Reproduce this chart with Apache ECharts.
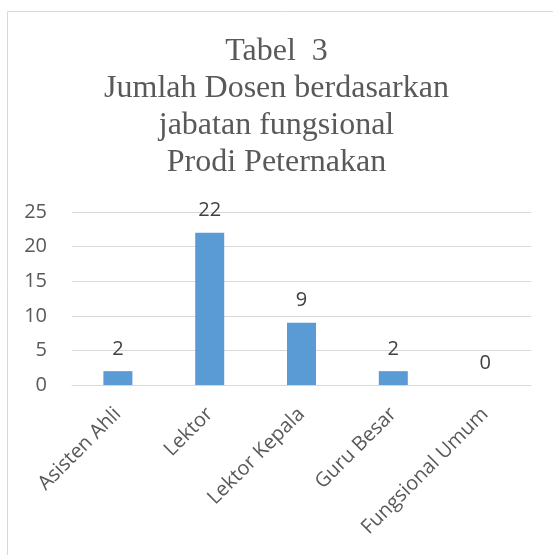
<!DOCTYPE html>
<html>
<head>
<meta charset="utf-8">
<script src="https://cdn.jsdelivr.net/npm/echarts@6/dist/echarts.min.js"></script>
<style>
  html, body { margin: 0; padding: 0; background: #fff; }
  #chart { width: 553px; height: 555px; }
</style>
</head>
<body>
<div id="chart"></div>
<script>
// data
const categories = ['Asisten Ahli', 'Lektor', 'Lektor Kepala', 'Guru Besar', 'Fungsional Umum'];
const jumlahDosen = [2, 22, 9, 2, 0];
const yTicks = [0, 5, 10, 15, 20, 25];

const chart = echarts.init(document.getElementById('chart'));

const option = {
  backgroundColor: '#fff',
  animation: false,
  // light frame around the chart area, like the Excel chart border
  graphic: [{
    type: 'rect',
    shape: { x: 7.5, y: 11.5, width: 600, height: 600 },
    style: { fill: 'none', stroke: '#d9d9d9', lineWidth: 1 },
    silent: true
  }],
  title: {
    text: 'Tabel  3\nJumlah Dosen berdasarkan\njabatan fungsional\nProdi Peternakan',
    left: 'center',
    top: 28,
    textStyle: {
      fontFamily: 'Liberation Serif',
      fontSize: 32,
      fontWeight: 'normal',
      lineHeight: 37,
      color: '#595959'
    }
  },
  grid: {
    left: 72,
    right: 22,
    top: 212,
    bottom: 170
  },
  xAxis: {
    type: 'category',
    data: categories,
    axisLine: { lineStyle: { color: '#d9d9d9', width: 1 } },
    axisTick: { show: false },
    axisLabel: {
      interval: 0,
      rotate: 45,
      margin: 26,
      fontFamily: 'Open Sans',
      fontSize: 20,
      color: '#595959'
    }
  },
  yAxis: {
    type: 'value',
    min: yTicks[0],
    max: yTicks[yTicks.length - 1],
    interval: 5,
    axisLine: { show: false },
    axisTick: { show: false },
    axisLabel: {
      margin: 25,
      fontFamily: 'Open Sans',
      fontSize: 20,
      color: '#595959'
    },
    splitLine: { lineStyle: { color: '#d9d9d9', width: 1 } }
  },
  series: [{
    type: 'bar',
    data: jumlahDosen,
    barWidth: 29,
    itemStyle: { color: '#5b9bd5' },
    label: {
      show: true,
      position: 'top',
      distance: 12,
      fontFamily: 'Open Sans',
      fontSize: 20,
      color: '#404040'
    }
  }]
};

chart.setOption(option);
</script>
</body>
</html>
